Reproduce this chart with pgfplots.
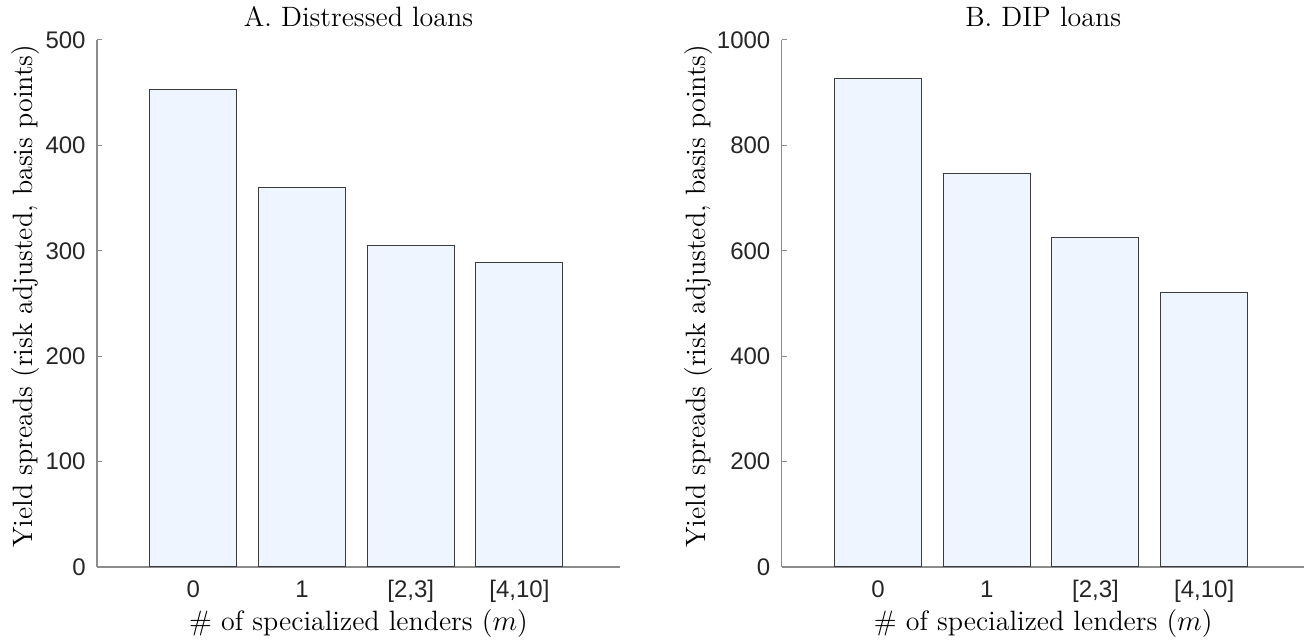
\documentclass[border=0pt]{standalone}
\usepackage{fontspec}
\usepackage{pgfplots}
\pgfplotsset{compat=1.18}
\newfontfamily\tickfont{Liberation Sans}
\definecolor{barfill}{RGB}{238,245,254}
\definecolor{baredge}{RGB}{60,60,60}
\definecolor{axgray}{RGB}{140,140,140}
\definecolor{txt}{RGB}{38,38,38}
\pgfplotsset{mystyle/.style={
  scale only axis, width=261.5pt, height=263.5pt,
  axis x line*=bottom, axis y line*=left,
  axis line style={axgray, line width=0.6pt, -},
  xmin=-0.886, xmax=3.925, ymin=0,
  xtick=data, xticklabels={0,1,{[2,3]},{[4,10]}},
  tick align=inside, major tick length=2.5pt,
  tick style={axgray, line width=0.5pt},
  ticklabel style={font=\fontsize{12}{14}\selectfont\tickfont, text=txt},
  /pgf/number format/assume math mode=true,
  /pgf/number format/1000 sep={},
  xticklabel style={anchor=base, inner sep=0pt, yshift=-15.5pt},
  yticklabel style={anchor=east, inner sep=0pt, xshift=-5.5pt},
  every axis title/.style={font=\fontsize{14}{17}\selectfont, at={(axis description cs:0.5,1)}, anchor=base, yshift=6.5pt},
  xlabel style={font=\fontsize{14}{17}\selectfont, at={(axis description cs:0.5,0)}, anchor=base, yshift=-32pt},
  xlabel={\# of specialized lenders ($m$)},
  ylabel={Yield spreads (risk adjusted, basis points)},
}}
\begin{document}
\begin{tikzpicture}
\path[use as bounding box] (0,0) rectangle (652pt,320pt);
\begin{axis}[mystyle, at={(48.5pt,36.5pt)}, anchor=south west,
  ymax=500, ytick={0,100,200,300,400,500},
  title={A. Distressed loans},
  ylabel style={font=\fontsize{14}{17}\selectfont, at={(axis description cs:-0.1224,0.514)}, anchor=base}]
\addplot[ybar, bar width=0.8, fill=barfill, draw=baredge, line width=0.5pt] coordinates {(0,453) (1,360) (2,305) (3,289)};
\end{axis}
\begin{axis}[mystyle, at={(390.85pt,36.5pt)}, anchor=south west,
  ymax=1000, ytick={0,200,400,600,800,1000},
  title={B. DIP loans},
  ylabel style={font=\fontsize{14}{17}\selectfont, at={(axis description cs:-0.146,0.514)}, anchor=base}]
\addplot[ybar, bar width=0.8, fill=barfill, draw=baredge, line width=0.5pt] coordinates {(0,927) (1,747) (2,626) (3,520)};
\end{axis}
\end{tikzpicture}
\end{document}
